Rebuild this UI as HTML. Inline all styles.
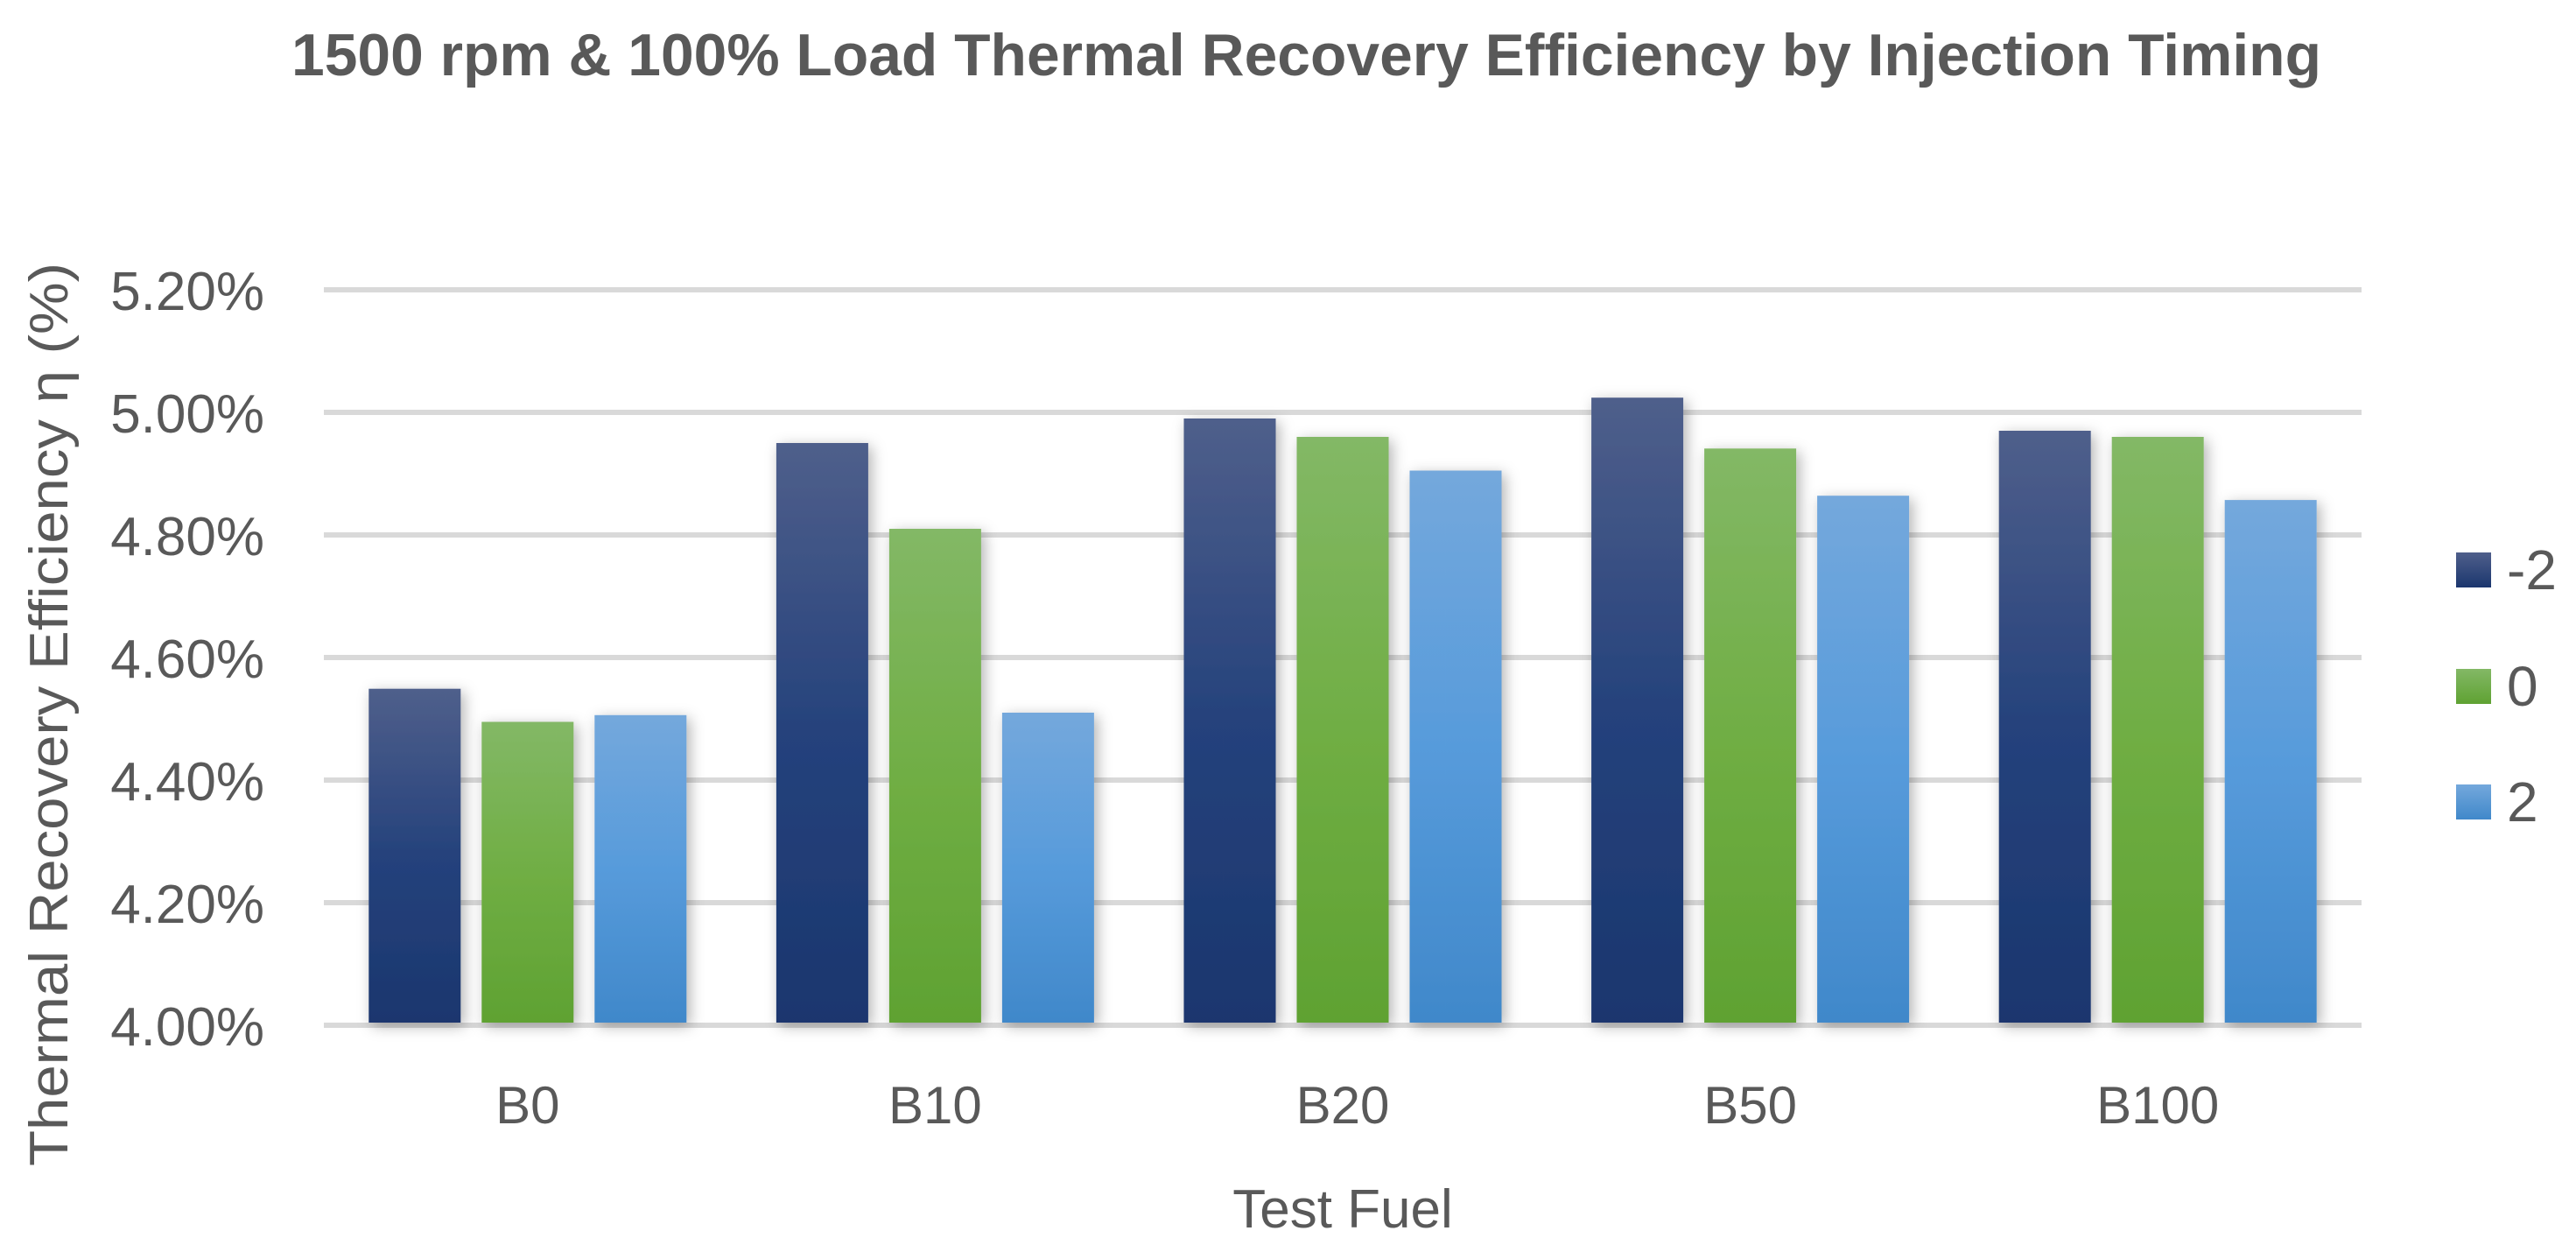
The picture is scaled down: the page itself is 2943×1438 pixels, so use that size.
<!DOCTYPE html>
<html><head><meta charset="utf-8"><style>
html,body{margin:0;padding:0;background:#fff;}
svg{display:block;font-family:"Liberation Sans",sans-serif;}
</style></head><body>
<svg id="chart" width="2943" height="1438" viewBox="0 0 2943 1438" xmlns="http://www.w3.org/2000/svg">
<defs>
<linearGradient id="gNeg" x1="0" y1="0" x2="0" y2="1"><stop offset="0" stop-color="#4f5f8b"/><stop offset="0.5" stop-color="#25427c"/><stop offset="1" stop-color="#1b366e"/></linearGradient>
<linearGradient id="gZero" x1="0" y1="0" x2="0" y2="1"><stop offset="0" stop-color="#83b866"/><stop offset="0.5" stop-color="#70ae44"/><stop offset="1" stop-color="#5fa232"/></linearGradient>
<linearGradient id="gPos" x1="0" y1="0" x2="0" y2="1"><stop offset="0" stop-color="#74a8dc"/><stop offset="0.5" stop-color="#579bdb"/><stop offset="1" stop-color="#4088ca"/></linearGradient>
<filter id="sh" x="-30%" y="-10%" width="160%" height="125%"><feDropShadow dx="4" dy="4" stdDeviation="8" flood-color="#000" flood-opacity="0.3"/></filter>
</defs>
<text x="333" y="86" font-size="68" font-weight="bold" fill="#595959" textLength="2319" lengthAdjust="spacingAndGlyphs">1500 rpm &amp; 100% Load Thermal Recovery Efficiency by Injection Timing</text>
<g id="grid"></g>
<g id="bars"></g>
<g id="labels"></g>
<text transform="translate(77,1332) rotate(-90)" font-size="62" fill="#595959" textLength="1032" lengthAdjust="spacingAndGlyphs">Thermal Recovery Efficiency η (%)</text>
<text x="1534" y="1402" font-size="62" fill="#595959" text-anchor="middle">Test Fuel</text>
<g id="legend"></g>
</svg>
<script>
const categories = ["B0","B10","B20","B50","B100"];
const seriesNames = ["-2","0","2"];
const valuesNeg2 = [4.549,4.95,4.99,5.024,4.970];
const valuesZero = [4.495,4.81,4.96,4.941,4.960];
const valuesPos2 = [4.506,4.51,4.905,4.864,4.857];
const yTicks = [4.0,4.2,4.4,4.6,4.8,5.0,5.2];
const yTickLabels = ["4.00%","4.20%","4.40%","4.60%","4.80%","5.00%","5.20%"];

const NS="http://www.w3.org/2000/svg";
const plotL=370, plotR=2698, yMin=4.0, yMax=5.2, yBot=1171, yTop=331;
const fills=["url(#gNeg)","url(#gZero)","url(#gPos)"];
const legendFills=[["#4f5f8b","#1b366e"],["#83b866","#5fa232"],["#74a8dc","#4088ca"]];
function yScale(v){return yBot-(v-yMin)/(yMax-yMin)*(yBot-yTop);}
const catW=(plotR-plotL)/categories.length;
function xCenter(i){return plotL+catW*(i+0.5);}
function mk(tag,attrs,parent){const e=document.createElementNS(NS,tag);for(const k in attrs)e.setAttribute(k,attrs[k]);parent.appendChild(e);return e;}
const grid=document.getElementById('grid'), bars=document.getElementById('bars'), labels=document.getElementById('labels'), legend=document.getElementById('legend');
yTicks.forEach((t,i)=>{
  const y=yScale(t);
  const l=mk('line',{x1:plotL,x2:plotR,y1:y,y2:y,stroke:'#d9d9d9','stroke-width':6},grid);
  
  
  const tx=mk('text',{x:302,y:y+23,'font-size':62,fill:'#595959','text-anchor':'end'},labels);
  tx.textContent=yTickLabels[i];
  
  
});
const series=[valuesNeg2,valuesZero,valuesPos2];
const barW=105, gap=24;
categories.forEach((c,i)=>{
  const groupW=3*barW+2*gap;
  const x0=xCenter(i)-groupW/2;
  series.forEach((vals,s)=>{
    const y=yScale(vals[i]);
    const r=mk('rect',{x:x0+s*(barW+gap),y:y,width:barW,height:yBot-3-y,fill:fills[s],filter:'url(#sh)'},bars);
    
    
  });
  const t=mk('text',{x:xCenter(i),y:1283,'font-size':60,fill:'#595959','text-anchor':'middle'},labels);
  t.textContent=c;
  
  
});
const legY=[631,764,896];
seriesNames.forEach((n,s)=>{
  const gid='lg'+s;
  const g=mk('linearGradient',{id:gid,x1:0,y1:0,x2:0,y2:1},document.querySelector('defs'));
  mk('stop',{offset:0,'stop-color':legendFills[s][0]},g);
  mk('stop',{offset:1,'stop-color':legendFills[s][1]},g);
  const r=mk('rect',{x:2806,y:legY[s],width:40,height:40,fill:'url(#'+gid+')'},legend);
  
  
  const t=mk('text',{x:2864,y:legY[s]+42,'font-size':64,fill:'#595959'},legend);
  t.textContent=n;
  
  
});
</script>
</body></html>
